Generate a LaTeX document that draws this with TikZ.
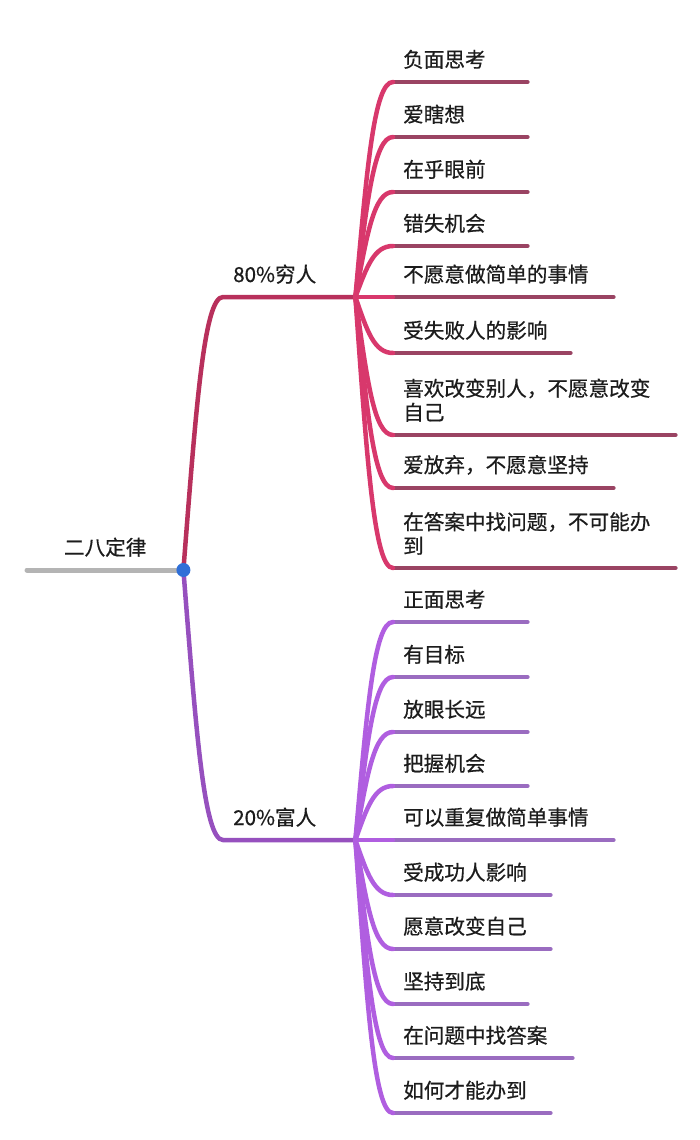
\documentclass[tikz,border=0pt]{standalone}
\usepackage{fontspec}
\setmainfont{Noto Sans CJK SC}[FakeBold=0.6]
\usetikzlibrary{calc}
\definecolor{poorline}{HTML}{9A4463}
\definecolor{poorcurve}{HTML}{D8386C}
\definecolor{richline}{HTML}{9A6CC0}
\definecolor{richcurve}{HTML}{B05EE0}
\definecolor{rootgrey}{HTML}{B4B4B4}
\definecolor{dotblue}{HTML}{2F6FD8}
\definecolor{ink}{HTML}{1C1C1C}

\begin{document}
\begin{tikzpicture}
        [x=1pt, y=-1pt,
        topic/.style={anchor=south west, text width=#1, align=left, inner xsep=10pt, inner ysep=13pt,
            font=\fontsize{20.6}{24}\selectfont, text=ink},
        topic/.default=114pt,
        twig/.style={to path={.. controls ($(\tikztostart)!0.6!(\tikztotarget)+(-11,0)$)
            and ($(\tikztotarget)+(-19,0)$) .. (\tikztotarget)}},
        rootline/.style={draw=rootgrey, line width=5pt, line cap=round},
        poortrunk/.style={draw=poorcurve!85!black, line width=4.5pt, line cap=round},
        poorbend/.style={draw=poorcurve, line width=4.5pt, line cap=round},
        poorline/.style={draw=poorline, line width=4.5pt, line cap=round},
        richtrunk/.style={draw=richcurve!85!black, line width=4.5pt, line cap=round},
        richbend/.style={draw=richcurve, line width=4.5pt, line cap=round},
        richline/.style={draw=richline, line width=4.5pt, line cap=round},
        dot/.style={circle, fill=dotblue, inner sep=0pt, minimum size=14pt}]

        \useasboundingbox[fill=white] (0,0) rectangle (700,1140);

        \node[topic=136pt, align=center] (root) at (27,570) {二八定律};
        \coordinate (fork) at (root.south east);

        \node[topic=112pt] (poor) at (223,297) {80\%穷人};
        \node[topic=112pt] (rich) at (223,840) {20\%富人};
        \coordinate (hubP) at (poor.south east);
        \coordinate (hubR) at (rich.south east);

        \node[topic] (p1) at (393,82) {负面思考};
        \node[topic] (p2) at (393,137) {爱瞎想};
        \node[topic] (p3) at (393,192) {在乎眼前};
        \node[topic] (p4) at (393,246) {错失机会};
        \node[topic=200pt] (p5) at (393,297) {不愿意做简单的事情};
        \node[topic=157pt] (p6) at (393,353) {受失败人的影响};
        \node[topic=262pt] (p7) at (393,435) {喜欢改变别人，不愿意改变\\自己};
        \node[topic=200pt] (p8) at (393,488) {爱放弃，不愿意坚持};
        \node[topic=262pt] (p9) at (393,568) {在答案中找问题，不可能办\\到};

        \node[topic] (r1) at (393,622) {正面思考};
        \node[topic] (r2) at (393,677) {有目标};
        \node[topic] (r3) at (393,732) {放眼长远};
        \node[topic] (r4) at (393,786) {把握机会};
        \node[topic=200pt] (r5) at (393,840) {可以重复做简单事情};
        \node[topic=137pt] (r6) at (393,895) {受成功人影响};
        \node[topic=137pt] (r7) at (393,949) {愿意改变自己};
        \node[topic] (r8) at (393,1004) {坚持到底};
        \node[topic=159pt] (r9) at (393,1058) {在问题中找答案};
        \node[topic=137pt] (r10) at (393,1113) {如何才能办到};

        % root and the two trunks
        \draw[rootline] (root.south west) -- (fork);
        \draw[poortrunk] (fork) to[twig] (poor.south west) -- (hubP);
        \draw[richtrunk] (fork) to[twig] (rich.south west) -- (hubR);

        % underlines (80% side)
        \draw[poorline] (p1.south west) -- (p1.south east);
        \draw[poorline] (p2.south west) -- (p2.south east);
        \draw[poorline] (p3.south west) -- (p3.south east);
        \draw[poorline] (p4.south west) -- (p4.south east);
        \draw[poorline] (p5.south west) -- (p5.south east);
        \draw[poorline] (p6.south west) -- (p6.south east);
        \draw[poorline] (p7.south west) -- (p7.south east);
        \draw[poorline] (p8.south west) -- (p8.south east);
        \draw[poorline] (p9.south west) -- (p9.south east);

        % underlines (20% side)
        \draw[richline] (r1.south west) -- (r1.south east);
        \draw[richline] (r2.south west) -- (r2.south east);
        \draw[richline] (r3.south west) -- (r3.south east);
        \draw[richline] (r4.south west) -- (r4.south east);
        \draw[richline] (r5.south west) -- (r5.south east);
        \draw[richline] (r6.south west) -- (r6.south east);
        \draw[richline] (r7.south west) -- (r7.south east);
        \draw[richline] (r8.south west) -- (r8.south east);
        \draw[richline] (r9.south west) -- (r9.south east);
        \draw[richline] (r10.south west) -- (r10.south east);

        % curves from the hubs
        \draw[poorbend] (hubP) to[twig] (p1.south west);
        \draw[poorbend] (hubP) to[twig] (p2.south west);
        \draw[poorbend] (hubP) to[twig] (p3.south west);
        \draw[poorbend] (hubP) to[twig] (p4.south west);
        \draw[poorbend] (hubP) to[twig] (p5.south west);
        \draw[poorbend] (hubP) to[twig] (p6.south west);
        \draw[poorbend] (hubP) to[twig] (p7.south west);
        \draw[poorbend] (hubP) to[twig] (p8.south west);
        \draw[poorbend] (hubP) to[twig] (p9.south west);

        \draw[richbend] (hubR) to[twig] (r1.south west);
        \draw[richbend] (hubR) to[twig] (r2.south west);
        \draw[richbend] (hubR) to[twig] (r3.south west);
        \draw[richbend] (hubR) to[twig] (r4.south west);
        \draw[richbend] (hubR) to[twig] (r5.south west);
        \draw[richbend] (hubR) to[twig] (r6.south west);
        \draw[richbend] (hubR) to[twig] (r7.south west);
        \draw[richbend] (hubR) to[twig] (r8.south west);
        \draw[richbend] (hubR) to[twig] (r9.south west);
        \draw[richbend] (hubR) to[twig] (r10.south west);

        \node[dot] (dot) at (fork) {};

    \end{tikzpicture}
\end{document}
